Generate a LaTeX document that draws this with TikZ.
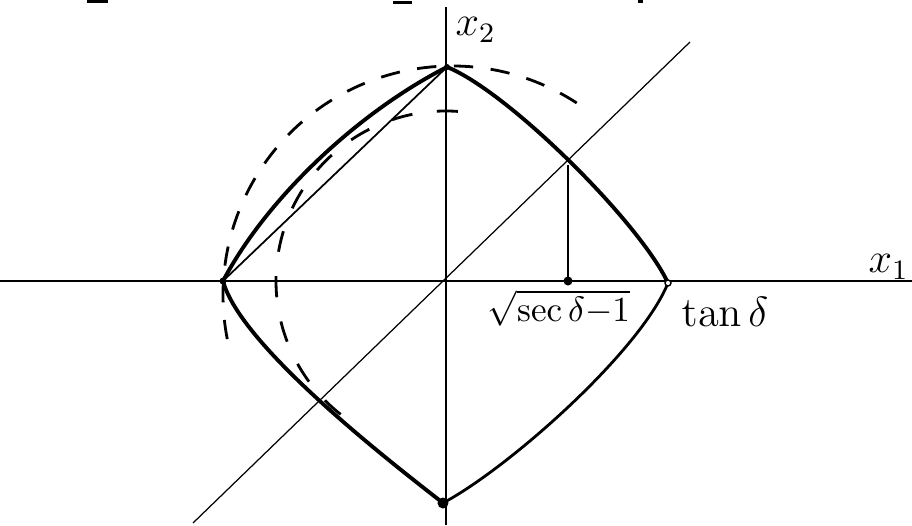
\documentclass[tikz,border=0pt]{standalone}
\usepackage{amsmath,amssymb}
\usetikzlibrary{positioning}
\definecolor{ink}{HTML}{000000}

\begin{document}
\begin{tikzpicture}[
    rim/.style={ink,line width=1.1pt,line cap=round,line join=round},
    axisline/.style={ink,line width=0.55pt},
    guide/.style={ink,line width=0.4pt},
    arcdash/.style={ink,line width=0.8pt,dash pattern=on 5.5pt off 5pt},
    lbl/.style={ink,inner sep=0pt}]
  \useasboundingbox (-4.46,-2.44) rectangle (4.66,2.81);

  \coordinate (T) at (0.01,2.14);
  \coordinate (R) at (2.22,-0.02);
  \coordinate (B) at (-0.03,-2.22);
  \coordinate (L) at (-2.23,0);
  \coordinate (D) at (1.22,1.16);
  \coordinate (F) at (1.22,0);

  % axes and the diagonal
  \draw[axisline] (-4.46,0) -- (4.66,0);
  \draw[axisline] (0,-2.44) -- (0,2.74);
  \draw[guide,line width=0.35pt] (-2.53,-2.42) -- (2.44,2.39);

  % the rounded square
  \draw[rim] (T) to[out=-22,in=115,looseness=0.55] (R);
  \draw[rim,line width=0.8pt] (R) to[out=-112,in=28,looseness=0.6] (B);
  \draw[rim] (B) to[out=142,in=-75,looseness=0.55] (L);
  \draw[rim] (L) to[out=62,in=-153,looseness=0.8] (T);
  \draw[guide,line width=0.5pt] (L) -- (T);

  % dashed arcs
  \draw[arcdash] (0.06,-0.14) ++(57:2.29) arc[start angle=57,end angle=192,radius=2.29];
  \draw[arcdash,dash pattern=on 6pt off 7pt] (0,0) ++(86:1.70) arc[start angle=86,end angle=234,radius=1.70];

  \draw[guide,line width=0.5pt] (D) -- (F);
  \fill[ink] (F) circle (0.045);
  \fill[ink] (B) circle (0.055);
  \fill[ink] (L) circle (0.035);
  \fill[ink] (T) circle (0.03);
  \draw[ink,line width=0.4pt,fill=white] (R) circle (0.03);

  \node[lbl,font=\large,anchor=west] (xtwo) at (0.09,2.51) {$x_2$};
  \node[lbl,font=\large,anchor=west] (xone) at (4.22,0.14) {$x_1$};
  \node[lbl,font=\large] (tand) at (2.79,-0.31) {$\tan\delta$};
  \node[lbl] (root) at (1.13,-0.27) {$\sqrt{\sec\delta{-}1}$};

  % scraps of the line above
  \fill[ink] (-3.59,2.81) rectangle (-3.38,2.78);
  \fill[ink] (-0.53,2.80) rectangle (-0.34,2.77);
  \fill[ink] (1.92,2.81) rectangle (1.97,2.78);
\end{tikzpicture}
\end{document}
